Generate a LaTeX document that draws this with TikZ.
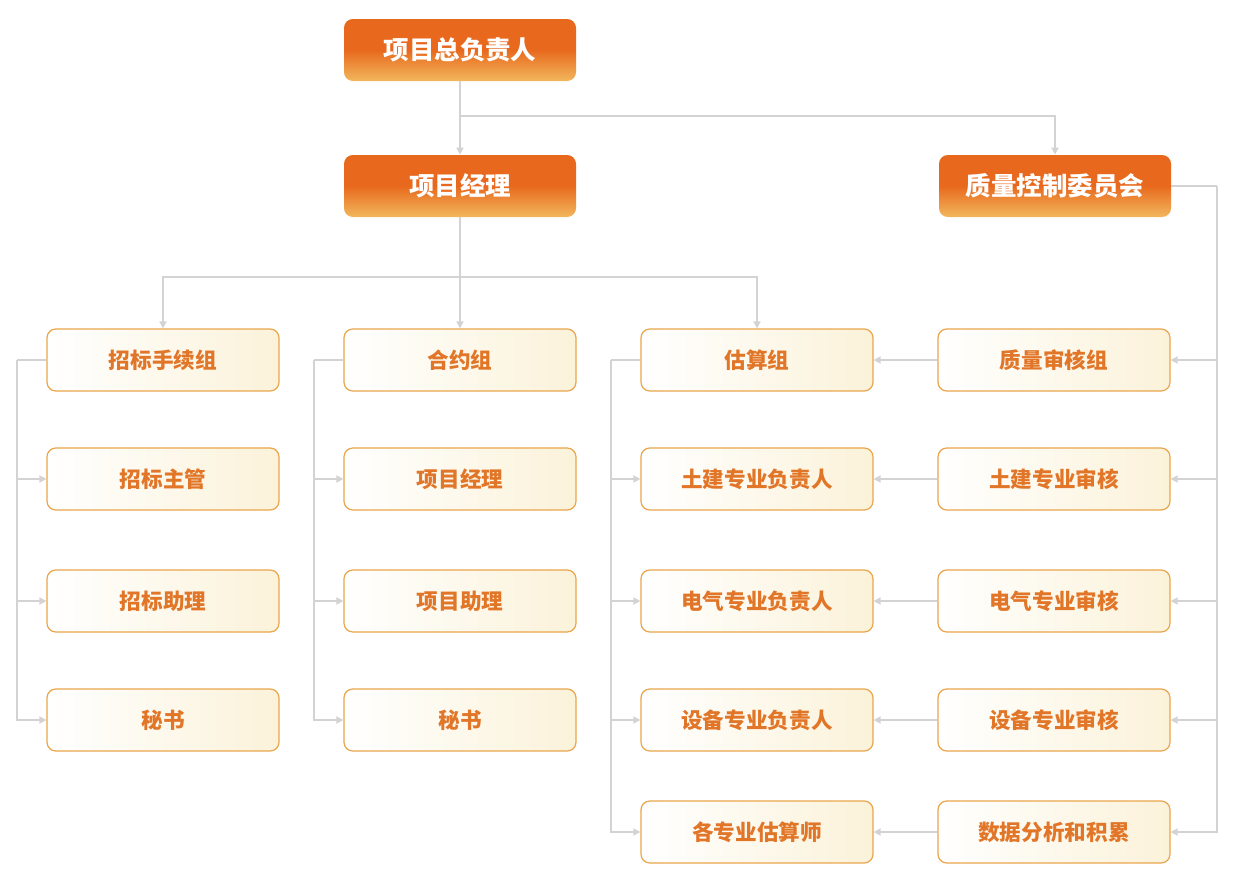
\documentclass[tikz,border=0pt]{standalone}
\usepackage{fontspec}
\setmainfont{Noto Sans CJK SC}
\usetikzlibrary{arrows.meta}
\definecolor{lineg}{HTML}{D3D3D3}
\definecolor{orgA}{HTML}{E8691E}
\definecolor{orgB}{HTML}{F2B75C}
\definecolor{txto}{HTML}{E27628}
\definecolor{bordo}{HTML}{EAA64C}
\definecolor{cream}{HTML}{FBF2D9}
\tikzset{
  headbox/.style={rounded corners=5pt, minimum width=232*0.02cm, minimum height=62*0.02cm,
    top color=orgA, bottom color=orgB, middle color=orgA, text=white, font=\fontsize{14.5}{16}\selectfont\bfseries},
  subbox/.style={rounded corners=5pt, draw=bordo, line width=0.7pt, minimum width=232*0.02cm,
    minimum height=62*0.02cm, left color=white, right color=cream, text=txto,
    font=\fontsize{12.3}{14}\selectfont\bfseries},
  conn/.style={draw=lineg, line width=1.2pt, -{Triangle[length=4pt,width=4pt]}},
  link/.style={draw=lineg, line width=1.2pt}
}
\begin{document}
\begin{tikzpicture}[x=0.02cm,y=-0.02cm]
\useasboundingbox (0,0) rectangle (1239,889);
% heads
\node[headbox] (top) at (460,50) {项目总负责人};
\node[headbox] (pm) at (460,186) {项目经理};
\node[headbox] (qc) at (1055,186) {质量控制委员会};
% columns
\node[subbox] (a1) at (163,360) {招标手续组};
\node[subbox] (a2) at (163,479) {招标主管};
\node[subbox] (a3) at (163,601) {招标助理};
\node[subbox] (a4) at (163,720) {秘书};
\node[subbox] (b1) at (460,360) {合约组};
\node[subbox] (b2) at (460,479) {项目经理};
\node[subbox] (b3) at (460,601) {项目助理};
\node[subbox] (b4) at (460,720) {秘书};
\node[subbox] (c1) at (757,360) {估算组};
\node[subbox] (c2) at (757,479) {土建专业负责人};
\node[subbox] (c3) at (757,601) {电气专业负责人};
\node[subbox] (c4) at (757,720) {设备专业负责人};
\node[subbox] (c5) at (757,832) {各专业估算师};
\node[subbox] (d1) at (1054,360) {质量审核组};
\node[subbox] (d2) at (1054,479) {土建专业审核};
\node[subbox] (d3) at (1054,601) {电气专业审核};
\node[subbox] (d4) at (1054,720) {设备专业审核};
\node[subbox] (d5) at (1054,832) {数据分析和积累};
% top links
\draw[conn] (top) -- (pm);
\draw[conn] (top.south) -- ++(0,35) -| (qc.north);
\draw[link] (pm.south) -- ++(0,60) coordinate (hub);
\draw[conn] (hub) -| (a1.north);
\draw[conn] (hub) -- (b1.north);
\draw[conn] (hub) -| (c1.north);
% column links
\foreach \c/\n in {a/4,b/4,c/5}{
  \draw[link] (\c1.west) -- ++(-29,0) coordinate (\c rail);
  \foreach \i in {2,...,\n}
    \draw[conn] (\c rail) |- (\c\i.west);
}
\foreach \i in {1,...,5}
  \draw[conn] (d\i.west) -- (c\i.east);
\draw[link] (qc.east) -- ++(46,0) coordinate (qrail);
\foreach \i in {1,...,5}
  \draw[conn] (qrail) |- (d\i.east);
\end{tikzpicture}
\end{document}
